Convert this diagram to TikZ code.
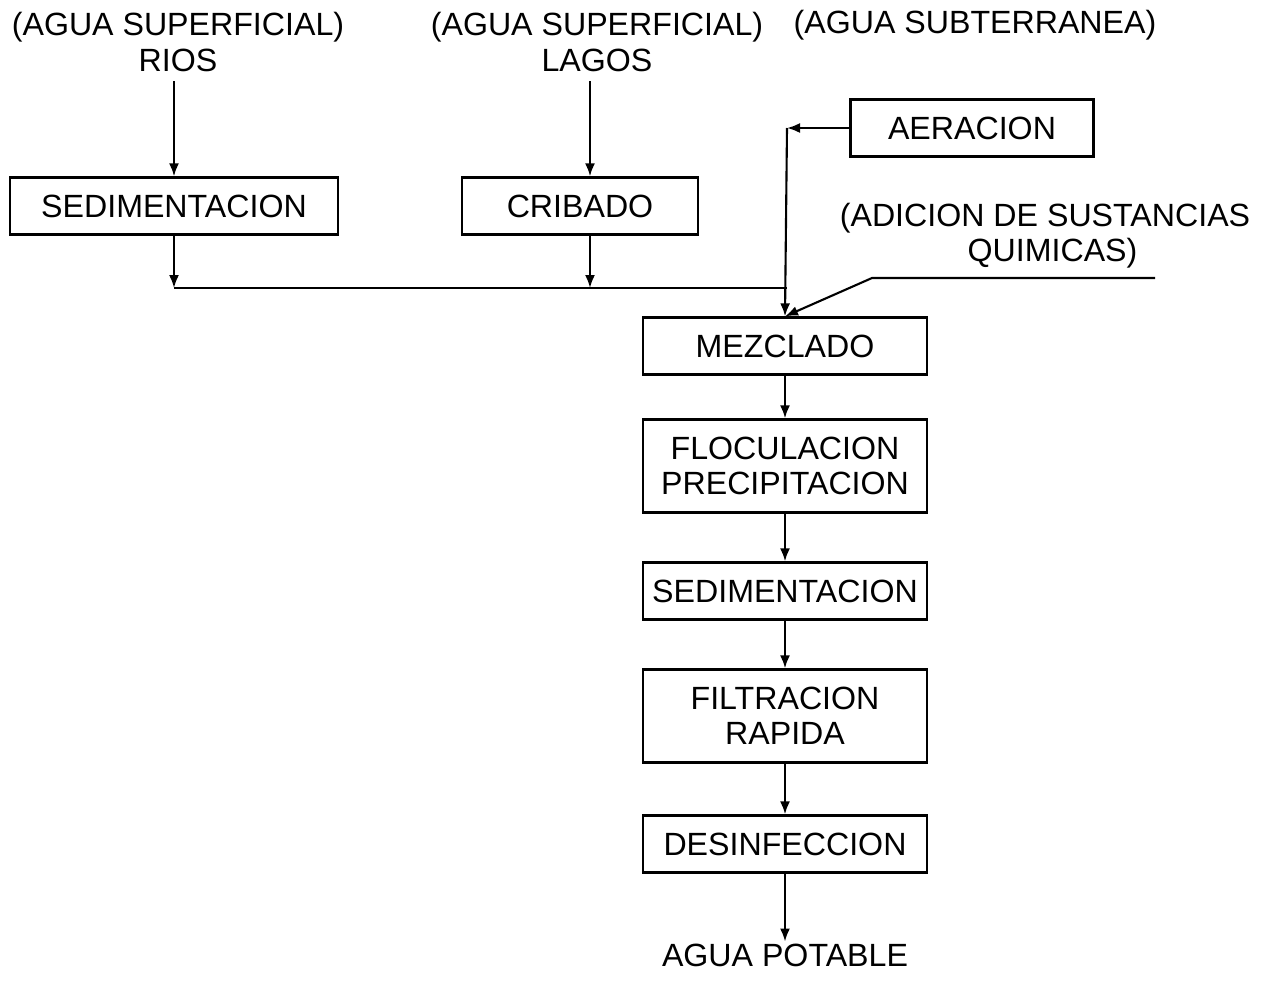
\documentclass[tikz,border=0pt]{standalone}
\usepackage{fontspec}
\setmainfont{Liberation Sans}
\usepackage{tikz}
\usetikzlibrary{arrows.meta,calc}

\begin{document}
\begin{tikzpicture}[x=0.02cm, y=-0.02cm,
		every node/.style={font=\fontsize{18.3}{20}\selectfont},
		box/.style={draw, line width=1.3pt, minimum height=1.14cm, align=center, inner sep=2pt},
		twoline/.style={box, minimum height=1.86cm},
		label/.style={align=center, inner sep=1pt},
		flow/.style={line width=1.2pt, -{Latex[length=2.6mm,width=2mm]}},
		link/.style={line width=1.2pt}]
		%%%%% START %%%%%
		
		\useasboundingbox (0, 0) rectangle (1274, 981);
		
		\node[label] (rios) at (178, 42) {(AGUA SUPERFICIAL)\\RIOS};
		\node[label] (lagos) at (597, 42) {(AGUA SUPERFICIAL)\\LAGOS};
		\node[label] (subt) at (975, 25) {(AGUA SUBTERRANEA)};
		
		\node[box, minimum width=6.56cm] (sedA) at (174, 206) {SEDIMENTACION};
		\node[box, minimum width=4.72cm] (crib) at (580, 206) {CRIBADO};
		\node[box, minimum width=4.86cm] (aer) at (972, 128) {AERACION};
		
		\node[label] (quim) at (1045, 236) {(ADICION DE SUSTANCIAS\\\hspace*{0.3cm}QUIMICAS)};
		
		\node[box, minimum width=5.68cm] (mez) at (785, 346) {MEZCLADO};
		\node[twoline, minimum width=5.68cm] (floc) at (785, 466) {FLOCULACION\\PRECIPITACION};
		\node[box, minimum width=5.68cm] (sedB) at (785, 591) {SEDIMENTACION};
		\node[twoline, minimum width=5.68cm] (filt) at (785, 716) {FILTRACION\\RAPIDA};
		\node[box, minimum width=5.68cm] (des) at (785, 844) {DESINFECCION};
		\node[label] (pot) at (785, 955) {AGUA POTABLE};
		
		\coordinate (bus) at (787, 288);
		\coordinate (cribtop) at ($(crib.north)+(10, 0)$);
		\coordinate (cribbot) at ($(crib.south)+(10, 0)$);
		\coordinate (qa) at (1155, 278);
		\coordinate (qb) at (872, 278);
		
		% fuentes
		\draw[flow] ($(sedA.north |- rios.south)+(0, 8)$) -- (sedA.north);
		\draw[flow] ($(cribtop |- lagos.south)+(0, 8)$) -- (cribtop);
		\draw[flow] (sedA.south) -- (sedA.south |- bus);
		\draw[flow] (cribbot) -- (cribbot |- bus);
		\draw[link] (sedA.south |- bus) -- (bus);
		
		% aeracion y quimicos
		\draw[flow] (aer.west) -- (aer.west -| bus);
		\draw[flow] (aer.west -| bus) -- (mez.north);
		\draw[flow] (qa) -- (qb) -- (mez.north);
		
		% linea principal
		\draw[flow] (mez) -- (floc);
		\draw[flow] (floc) -- (sedB);
		\draw[flow] (sedB) -- (filt);
		\draw[flow] (filt) -- (des);
		\draw[flow] (des) -- (pot);
		
		%%%%% END %%%%%
\end{tikzpicture}
\end{document}
